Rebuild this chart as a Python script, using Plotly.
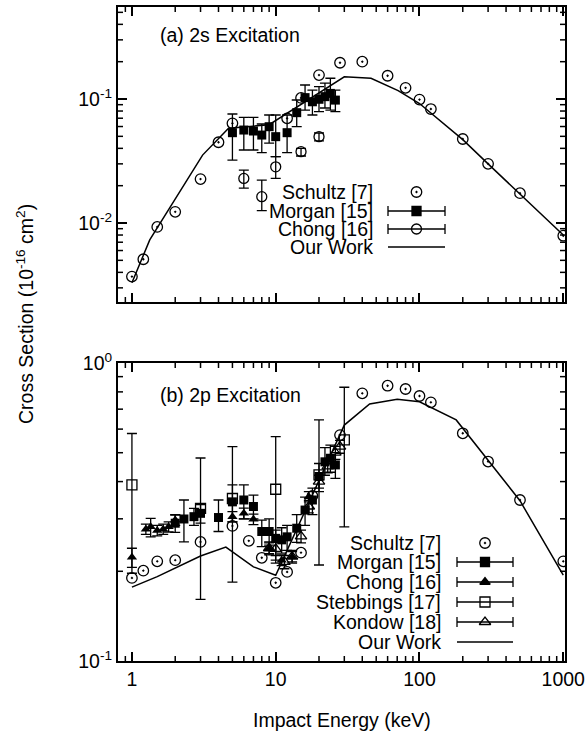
import numpy as np
import plotly.graph_objects as go

# ---------------- data: (a) 2s excitation ----------------
top_schultz_E = [1, 1.2, 1.5, 2, 3, 4, 5, 12, 15, 20, 28, 40, 60, 80, 100, 120, 200, 300, 500, 1000]
top_schultz_s = [0.0037, 0.0051, 0.0093, 0.0123, 0.0226, 0.0448, 0.0637, 0.0698, 0.102, 0.156, 0.196,
                 0.200, 0.154, 0.123, 0.099, 0.083, 0.0476, 0.030, 0.0174, 0.0079]

top_morgan_E = [5, 6, 7, 8, 9, 10, 12, 14, 16, 18, 20, 22, 24, 26]
top_morgan_s = [0.0535, 0.0562, 0.0552, 0.0512, 0.0598, 0.0497, 0.0535, 0.0776, 0.1026, 0.095, 0.0995, 0.1045, 0.111, 0.098]
top_morgan_hi = [0.0757, 0.0712, 0.0712, 0.0629, 0.0743, 0.0743, 0.0743, 0.0982, 0.1297, 0.118, 0.1257, 0.1345, 0.147, 0.118]
top_morgan_lo = [0.0322, 0.0388, 0.0388, 0.0369, 0.0440, 0.0343, 0.0369, 0.0598, 0.0815, 0.0743, 0.079, 0.0846, 0.0815, 0.079]

top_chong_E = [6, 8, 10, 15, 20]
top_chong_s = [0.0229, 0.0163, 0.0284, 0.0376, 0.0497]
top_chong_hi = [0.0267, 0.0222, 0.0343, 0.0400, 0.0532]
top_chong_lo = [0.0191, 0.0126, 0.0229, 0.0347, 0.0459]

top_work_E = [1, 1.33, 3.1, 4.7, 9, 30, 46, 71, 100, 200, 300, 500, 1000]
top_work_s = [0.0033, 0.0073, 0.0353, 0.058, 0.062, 0.151, 0.147, 0.117, 0.092, 0.047, 0.030, 0.0172, 0.0080]

# ---------------- data: (b) 2p excitation ----------------
bot_schultz_E = [1, 1.2, 1.5, 2, 3, 5, 6.5, 8, 10, 12, 15, 18, 28, 40, 60, 80, 100, 120, 200, 300, 500, 1000]
bot_schultz_s = [0.19, 0.201, 0.216, 0.218, 0.251, 0.284, 0.253, 0.222, 0.183, 0.199, 0.231, 0.358, 0.573,
                 0.791, 0.839, 0.818, 0.775, 0.738, 0.581, 0.467, 0.347, 0.216]

bot_morgan_E = [2, 2.3, 2.7, 3, 4, 5, 6, 7, 8, 9, 10, 11, 12, 14, 16, 18, 20, 22, 24, 26]
bot_morgan_s = [0.29, 0.2996, 0.305, 0.313, 0.303, 0.342, 0.347, 0.33, 0.272, 0.272, 0.258, 0.255, 0.261,
                0.279, 0.321, 0.347, 0.416, 0.466, 0.479, 0.455]
bot_morgan_hi = [0.31, 0.347, 0.325, 0.335, 0.347, 0.39, 0.39, 0.36, 0.297, 0.30, 0.275, 0.28, 0.285,
                 0.31, 0.355, 0.38, 0.46, 0.52, 0.53, 0.50]
bot_morgan_lo = [0.27, 0.251, 0.285, 0.29, 0.272, 0.293, 0.30, 0.30, 0.242, 0.245, 0.218, 0.23, 0.235,
                 0.25, 0.285, 0.31, 0.37, 0.42, 0.43, 0.41]

bot_chong_E = [1, 1.25, 1.35, 1.5, 1.65, 1.8, 2, 5, 6, 7, 9, 11, 13, 17]
bot_chong_s = [0.223, 0.277, 0.282, 0.274, 0.277, 0.282, 0.297, 0.305, 0.313, 0.299, 0.239, 0.218, 0.224, 0.356]
bot_chong_hi = [0.239, 0.288, 0.301, 0.285, 0.288, 0.293, 0.309, 0.317, 0.326, 0.311, 0.249, 0.227, 0.233, 0.370]
bot_chong_lo = [0.206, 0.266, 0.261, 0.263, 0.266, 0.271, 0.285, 0.293, 0.300, 0.287, 0.229, 0.209, 0.215, 0.342]

bot_steb_E = [1, 3, 5, 10, 20, 30]
bot_steb_s = [0.39, 0.325, 0.351, 0.377, 0.421, 0.552]
bot_steb_hi = [0.58, 0.48, 0.524, 0.566, 0.644, 0.829]
bot_steb_lo = [0.197, 0.161, 0.184, 0.213, 0.21, 0.282]

bot_kondow_E = [9, 10, 11.5, 13, 15, 17, 20, 23, 26, 28]
bot_kondow_s = [0.239, 0.238, 0.215, 0.224, 0.262, 0.33, 0.40, 0.45, 0.50, 0.524]
bot_kondow_hi = [0.251, 0.250, 0.226, 0.235, 0.275, 0.346, 0.42, 0.472, 0.525, 0.55]
bot_kondow_lo = [0.227, 0.226, 0.204, 0.213, 0.249, 0.314, 0.38, 0.428, 0.475, 0.498]

bot_work_E = [1, 1.5, 3, 4.5, 7, 10, 30, 45, 70, 100, 180, 300, 500, 1000]
bot_work_s = [0.177, 0.192, 0.225, 0.241, 0.207, 0.194, 0.619, 0.729, 0.755, 0.741, 0.644, 0.47, 0.345, 0.194]

x_tick_vals = [1, 10, 100, 1000]
x_tick_text = ["1", "10", "100", "1000"]
top_y_tick_vals = [0.01, 0.1]
top_y_tick_text = ["10<sup>-2</sup>", "10<sup>-1</sup>"]
bot_y_tick_vals = [0.1, 1]
bot_y_tick_text = ["10<sup>-1</sup>", "10<sup>0</sup>"]

# ---------------- style / layout ----------------
W, H = 587, 736
L, R, T, B = 118, 565, 7, 661          # plot-area pixel box
FONT = "Liberation Sans, Arial, Helvetica, sans-serif"
FS = 19.5
TOP_BOTTOM_PX, BOT_TOP_PX = 302, 363


def py2paper(py):
    return (B - py) / (B - T)


def errs(s, hi, lo):
    s = np.array(s, dtype=float)
    return dict(type="data", symmetric=False, array=[float(v) for v in np.array(hi) - s],
                arrayminus=[float(v) for v in s - np.array(lo)], color="black", thickness=1.3, width=5)


fig = go.Figure()

# top panel traces (x2, y2)
fig.add_trace(go.Scatter(x=top_work_E, y=top_work_s, mode="lines", line=dict(color="black", width=1.5),
                         xaxis="x2", yaxis="y2", showlegend=False))
fig.add_trace(go.Scatter(x=top_chong_E, y=top_chong_s, mode="markers", xaxis="x2", yaxis="y2",
                         marker=dict(symbol="circle-open", size=10, color="black", line=dict(width=1.3)),
                         error_y=errs(top_chong_s, top_chong_hi, top_chong_lo), showlegend=False))
fig.add_trace(go.Scatter(x=top_morgan_E, y=top_morgan_s, mode="markers", xaxis="x2", yaxis="y2",
                         marker=dict(symbol="square", size=9, color="black"),
                         error_y=errs(top_morgan_s, top_morgan_hi, top_morgan_lo), showlegend=False))
fig.add_trace(go.Scatter(x=top_schultz_E, y=top_schultz_s, mode="markers", xaxis="x2", yaxis="y2",
                         marker=dict(symbol="circle-open-dot", size=10.5, color="black", line=dict(width=1.3)),
                         showlegend=False))

# bottom panel traces (x, y)
fig.add_trace(go.Scatter(x=bot_work_E, y=bot_work_s, mode="lines", line=dict(color="black", width=1.5),
                         showlegend=False))
fig.add_trace(go.Scatter(x=bot_steb_E, y=bot_steb_s, mode="markers",
                         marker=dict(symbol="square-open", size=10, color="black", line=dict(width=1.3)),
                         error_y=errs(bot_steb_s, bot_steb_hi, bot_steb_lo), showlegend=False))
fig.add_trace(go.Scatter(x=bot_morgan_E, y=bot_morgan_s, mode="markers",
                         marker=dict(symbol="square", size=9, color="black"),
                         error_y=errs(bot_morgan_s, bot_morgan_hi, bot_morgan_lo), showlegend=False))
fig.add_trace(go.Scatter(x=bot_kondow_E, y=bot_kondow_s, mode="markers",
                         marker=dict(symbol="triangle-up-open", size=10, color="black", line=dict(width=1.3)),
                         error_y=errs(bot_kondow_s, bot_kondow_hi, bot_kondow_lo), showlegend=False))
fig.add_trace(go.Scatter(x=bot_chong_E, y=bot_chong_s, mode="markers",
                         marker=dict(symbol="triangle-up", size=9, color="black"),
                         error_y=errs(bot_chong_s, bot_chong_hi, bot_chong_lo), showlegend=False))
fig.add_trace(go.Scatter(x=bot_schultz_E, y=bot_schultz_s, mode="markers",
                         marker=dict(symbol="circle-open-dot", size=10.5, color="black", line=dict(width=1.3)),
                         showlegend=False))

# ---------------- manual gnuplot-style keys (overlay axes in pixel units) ----------------
keys = [
    ("Schultz [7]", 192, 375, 388, 445, "circle-open-dot", 10.5, False, False),
    ("Morgan [15]", 211, 375, 388, 445, "square", 9, True, False),
    ("Chong [16]", 229, 375, 388, 445, "circle-open", 10, True, False),
    ("Our Work", 247, 375, 388, 445, None, 0, False, True),
    ("Schultz [7]", 543, 443, 457, 513, "circle-open-dot", 10.5, False, False),
    ("Morgan [15]", 562, 443, 457, 513, "square", 9, True, False),
    ("Chong [16]", 582, 443, 457, 513, "triangle-up", 9, True, False),
    ("Stebbings [17]", 602, 443, 457, 513, "square-open", 10, True, False),
    ("Kondow [18]", 622, 443, 457, 513, "triangle-up-open", 10, True, False),
    ("Our Work", 642, 443, 457, 513, None, 0, False, True),
]
annotations = []
for lab, ky, tx, x0, x1, sym, sz, eb, isline in keys:
    annotations.append(dict(text=lab, x=tx, y=ky, xref="x3", yref="y3", xanchor="right", yanchor="middle",
                            showarrow=False, font=dict(family=FONT, size=FS, color="black")))
    xc = (x0 + x1) / 2
    if isline:
        fig.add_trace(go.Scatter(x=[x0, x1], y=[ky, ky], mode="lines", line=dict(color="black", width=1.5),
                                 xaxis="x3", yaxis="y3", showlegend=False, hoverinfo="skip"))
    else:
        tr = dict(x=[xc], y=[ky], mode="markers", xaxis="x3", yaxis="y3", showlegend=False, hoverinfo="skip",
                  marker=dict(symbol=sym, size=sz, color="black", line=dict(width=1.3, color="black")))
        if eb:
            tr["error_x"] = dict(type="constant", value=(x1 - x0) / 2, color="black", thickness=1.3, width=5)
        fig.add_trace(go.Scatter(**tr))

annotations += [
    dict(text="(a) 2s Excitation", x=158, y=35, xref="x3", yref="y3", xanchor="left", yanchor="middle",
         showarrow=False, font=dict(family=FONT, size=FS, color="black")),
    dict(text="(b) 2p Excitation", x=158, y=395, xref="x3", yref="y3", xanchor="left", yanchor="middle",
         showarrow=False, font=dict(family=FONT, size=FS, color="black")),
    dict(text="Impact Energy (keV)", x=0.5, y=py2paper(720), xref="paper", yref="paper",
         xanchor="center", yanchor="middle", showarrow=False, font=dict(family=FONT, size=FS, color="black")),
    dict(text="Cross Section (10<sup>-16</sup> cm<sup>2</sup>)", x=(25 - L) / (R - L),
         y=py2paper(314), xref="paper", yref="paper", textangle=-90, xanchor="center",
         yanchor="middle", showarrow=False, font=dict(family=FONT, size=FS, color="black")),
]


def minor_vals(lo_exp, hi_exp):
    return [m * 10 ** e for e in range(lo_exp, hi_exp + 1) for m in range(2, 10)]


# ---------------- minor ticks as short axis-decoration shapes ----------------
MINOR_LEN = 5
shapes = []
xr = [float(np.log10(0.8)), 3.012]
top_yr = [-2.637, -0.258]
bot_yr = [-1, 0]
panels = [("x", "y", bot_yr, B - BOT_TOP_PX, minor_vals(-1, -1)),
          ("x2", "y2", top_yr, TOP_BOTTOM_PX - T, minor_vals(-3, -1))]
for xa, ya, yr, hpx, ymin in panels:
    fy = MINOR_LEN / hpx
    fx = MINOR_LEN / (R - L)
    for v in minor_vals(-1, 2):
        if xr[0] < np.log10(v) < xr[1]:
            for y0, y1 in ((0, fy), (1 - fy, 1)):
                shapes.append(dict(type="line", xref=xa, yref=ya + " domain", x0=v, x1=v, y0=y0, y1=y1,
                                   line=dict(color="black", width=1.5)))
    for v in ymin:
        if yr[0] < np.log10(v) < yr[1]:
            for x0, x1 in ((0, fx), (1 - fx, 1)):
                shapes.append(dict(type="line", xref=xa + " domain", yref=ya, x0=x0, x1=x1, y0=v, y1=v,
                                   line=dict(color="black", width=1.5)))

major = dict(type="log", showline=True, linecolor="black", linewidth=2, mirror="allticks",
             ticks="inside", ticklen=9, tickwidth=1.8, tickcolor="black", showgrid=False, automargin=False,
             zeroline=False, tickfont=dict(family=FONT, size=FS, color="black"), tickmode="array")

top_dom = [py2paper(TOP_BOTTOM_PX), 1]
bot_dom = [0, py2paper(BOT_TOP_PX)]
fig.update_layout(
    template="none",
    width=W, height=H, margin=dict(l=L, r=W - R, t=T, b=H - B, pad=0),
    paper_bgcolor="white", plot_bgcolor="rgba(0,0,0,0)", showlegend=False,
    font=dict(family=FONT, size=FS, color="black"),
    xaxis=dict(major, domain=[0, 1], anchor="y", range=xr, tickvals=x_tick_vals, ticktext=x_tick_text),
    yaxis=dict(major, domain=bot_dom, anchor="x", range=bot_yr,
               tickvals=bot_y_tick_vals, ticktext=bot_y_tick_text),
    xaxis2=dict(major, domain=[0, 1], anchor="y2", range=xr, tickvals=x_tick_vals, ticktext=x_tick_text,
                showticklabels=False),
    yaxis2=dict(major, domain=top_dom, anchor="x2", range=top_yr,
                tickvals=top_y_tick_vals, ticktext=top_y_tick_text),
    xaxis3=dict(domain=[0, 1], anchor="y3", range=[L, R], visible=False, fixedrange=True, automargin=False),
    yaxis3=dict(domain=[0, 1], anchor="x3", range=[B, T], visible=False, fixedrange=True, automargin=False),
    annotations=annotations,
    shapes=shapes,
)

fig.write_html("out.html")
